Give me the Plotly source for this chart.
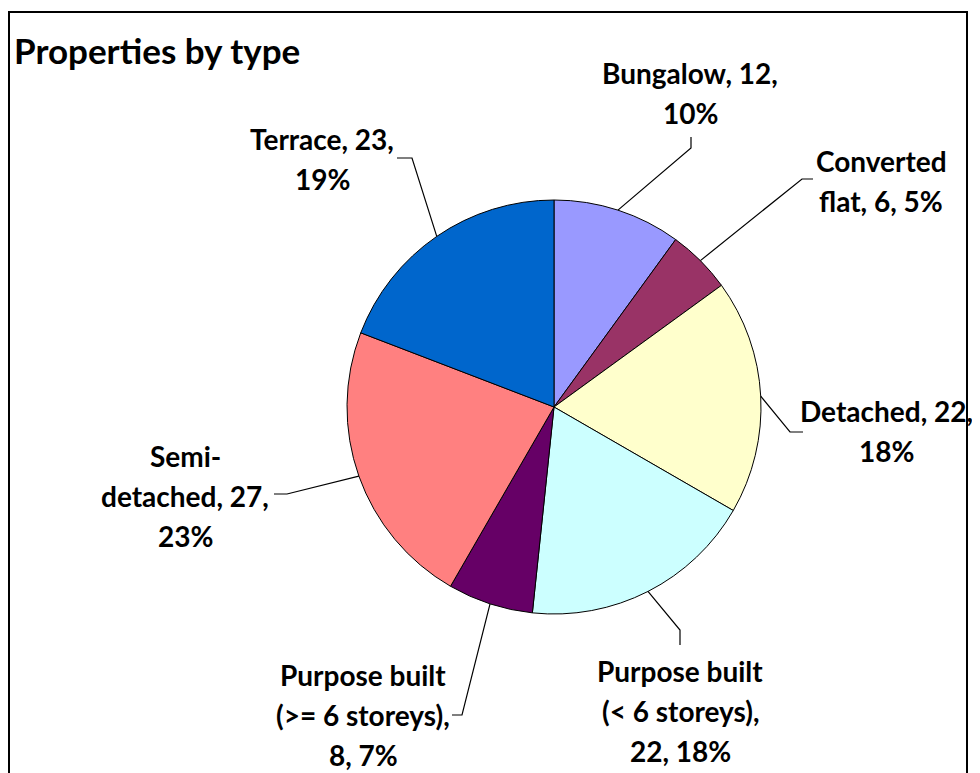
import math
import plotly.graph_objects as go

# data
categories = ["Bungalow", "Converted flat", "Detached", "Purpose built (< 6 storeys)",
              "Purpose built (>= 6 storeys)", "Semi-detached", "Terrace"]
counts = [12, 6, 22, 22, 8, 27, 23]
colors = ["#9999FF", "#993366", "#FFFFCC", "#CCFFFF", "#660066", "#FF8080", "#0066CC"]
# how Excel wrapped each label
label_lines = [
    ["Bungalow, {v},", "{p}%"],
    ["Converted", "flat, {v}, {p}%"],
    ["Detached, {v},", "{p}%"],
    ["Purpose built", "(< 6 storeys),", "{v}, {p}%"],
    ["Purpose built", "(>= 6 storeys),", "{v}, {p}%"],
    ["Semi-", "detached, {v},", "{p}%"],
    ["Terrace, {v},", "{p}%"],
]

# figure sits 8px into the page (body margin)
OFF = 8
FW, FH = 972, 765
CX, CY, R = 554, 407, 207  # pie centre / radius in page px

# label block centres and leader elbows (page px, layout only)
label_pos = [(690, 93), (881, 181), (886, 431), (680, 711), (363, 715), (185, 496), (322, 159)]
elbows = [
    [(691, 148), (691, 137)],
    [(802, 179), (813, 179)],
    [(790, 432), (803, 432)],
    [(680, 630), (680, 645)],
    [(462, 715), (452, 715)],
    [(287, 494), (274, 494)],
    [(412, 158), (397, 158)],
]
LINE_GAP = 40


def px(x):
    return (x - OFF) / FW


def py(y):
    return 1 - (y - OFF) / FH


fig = go.Figure(go.Pie(
    labels=categories,
    values=counts,
    sort=False,
    direction="clockwise",
    rotation=0,
    marker=dict(colors=colors, line=dict(color="black", width=1)),
    textinfo="none",
    hoverinfo="label+value+percent",
    domain=dict(x=[px(CX - R), px(CX + R)], y=[py(CY + R), py(CY - R)]),
    showlegend=False,
))

total = sum(counts)
shapes = []
annotations = []
cum = 0
font = dict(family="Lato", size=28, color="black", weight="bold")
for i, v in enumerate(counts):
    mid = (cum + v / 2) / total * 2 * math.pi
    cum += v
    sx = CX + R * math.sin(mid)
    sy = CY - R * math.cos(mid)
    pts = [(sx, sy)] + elbows[i]
    path = "M " + " L ".join(f"{px(x)},{py(y)}" for x, y in pts)
    shapes.append(dict(type="path", xref="paper", yref="paper", path=path,
                       line=dict(color="black", width=1.2)))
    pct = int(v / total * 100 + 0.5)
    lines = label_lines[i]
    lx, ly = label_pos[i]
    n = len(lines)
    for j, t in enumerate(lines):
        yy = ly + (j - (n - 1) / 2) * LINE_GAP
        annotations.append(dict(text=t.format(v=v, p=pct), x=px(lx), y=py(yy),
                                xref="paper", yref="paper", showarrow=False,
                                xanchor="center", yanchor="middle", font=font))

annotations.append(dict(text="Properties by type", x=px(12), y=py(50), xref="paper", yref="paper",
                        showarrow=False, xanchor="left", yanchor="middle",
                        font=dict(family="Lato", size=35, color="black", weight="bold")))

# chart frame
shapes.append(dict(type="rect", xref="paper", yref="paper", x0=px(9), x1=px(967),
                   y0=-0.05, y1=py(12), line=dict(color="black", width=2)))

fig.update_layout(
    width=FW, height=FH,
    margin=dict(l=0, r=0, t=0, b=0),
    paper_bgcolor="white",
    plot_bgcolor="white",
    shapes=shapes,
    annotations=annotations,
)

fig.write_html("out.html")
